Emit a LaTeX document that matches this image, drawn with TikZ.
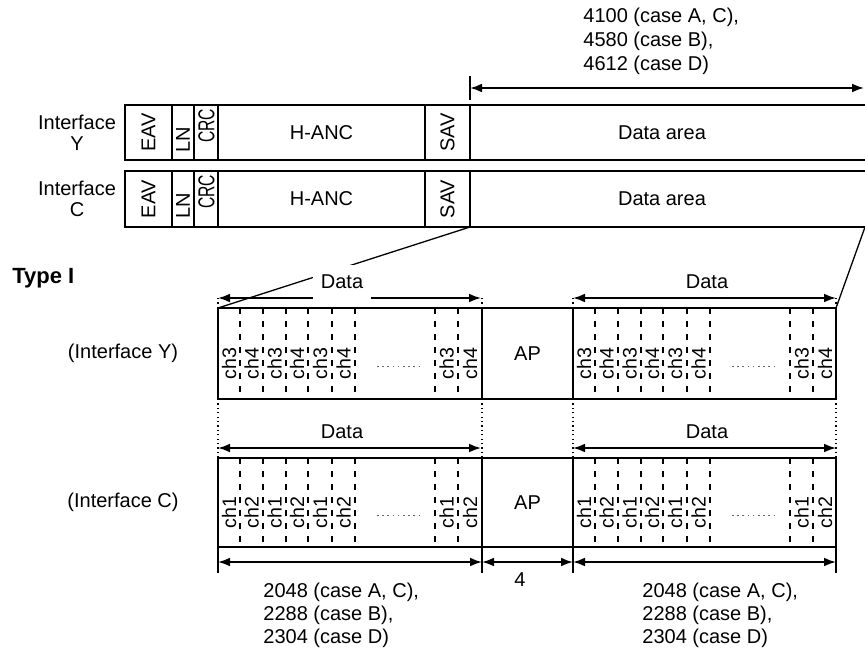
\documentclass[tikz,border=0pt]{standalone}
\usepackage{fontspec}
\setmainfont{Liberation Sans}
\usetikzlibrary{arrows.meta}
\begin{document}
\begin{tikzpicture}[x=0.5pt,y=-0.5pt,
  box/.style={line width=1.1pt},
  lbl/.style={font=\fontsize{10}{10.5}\selectfont, inner sep=0pt},
  rlbl/.style={lbl, rotate=90},
  chl/.style={font=\fontsize{9.8}{11}\selectfont, inner sep=0pt, rotate=90},
  chline/.style={line width=0.65pt, dash pattern=on 3pt off 3.5pt},
  dimarrow/.style={line width=0.85pt, {Latex[length=6pt,width=4.4pt]}-{Latex[length=6pt,width=4.4pt]}},
  ext/.style={line width=0.65pt},
  dotv/.style={line width=0.6pt, dash pattern=on 0.6pt off 1.6pt},
  ellip/.style={line width=0.7pt, dash pattern=on 0.8pt off 1.8pt, gray!80!black},
]
\useasboundingbox (0,0) rectangle (865,652);

% ---------- top rows ----------
\foreach \rw/\tp/\bt in {Y/105/160,C/171/227}{
  \draw[box] (865,\tp) -- (125,\tp) -- (125,\bt) -- (865,\bt);
  \foreach \x in {172,194,218,425,470} \draw[box] (\x,\tp) -- (\x,\bt);
  \node[lbl,align=center] (if\rw) at (77,{(\tp+\bt)/2}) {Interface\\\rw};
  \node[rlbl] (eav\rw) at (148.5,{(\tp+\bt)/2}) {EAV};
  \node[rlbl] (ln\rw) at (183,{\tp+35}) {LN};
  \node[rlbl, font=\fontsize{11.5}{12}\selectfont] (crc\rw) at (206.5,{\tp+21}) {\scalebox{0.68}[1]{CRC}};
  \node[lbl] (hanc\rw) at (321.5,{(\tp+\bt)/2}) {H-ANC};
  \node[rlbl] (sav\rw) at (447.5,{(\tp+\bt)/2}) {SAV};
  \node[lbl] (da\rw) at (662,{(\tp+\bt)/2}) {Data area};
}

% top dimension
\coordinate (tdL) at (470,88);
\coordinate (tdR) at (864,88);
\draw[ext] (470,76) -- (470,100);
\draw[dimarrow] (tdL) -- (tdR);
\node[lbl,anchor=west] (tt1) at (583,17) {4100 (case A, C),};
\node[lbl,anchor=west] (tt2) at (583,41) {4580 (case B),};
\node[lbl,anchor=west] (tt3) at (583,65) {4612 (case D)};

% Type I
\node[font=\fontsize{11}{13}\selectfont\bfseries, inner sep=0pt, anchor=west] (type) at (12,278) {Type I};
\node[lbl] (ifY2) at (123,353) {(Interface Y)};
\node[lbl] (ifC2) at (123,502) {(Interface C)};

% ---------- lower blocks ----------
\foreach \rw/\tp/\bt/\ca/\cb in {Y/308/399/3/4,C/458/547/1/2}{
  \draw[box] (218,\tp) rectangle (836,\bt);
  \draw[box] (482,\tp) -- (482,\bt) (573,\tp) -- (573,\bt);
  \node[lbl] (ap\rw) at (527.5,{(\tp+\bt)/2}) {AP};
  \foreach \xo/\sd in {218/L,573/R}{
    \foreach \dx in {22,45,68,90,114,137,217,240}
      \draw[chline] (\xo+\dx,\tp) -- (\xo+\dx,\bt);
    \foreach \dx [count=\i] in {11,56.5,102,228.5}
      \node[chl] (ch\rw\sd a\i) at (\xo+\dx,{(\tp+\bt)/2+10}) {ch\ca};
    \foreach \dx [count=\i] in {33.5,79,125.5,252}
      \node[chl] (ch\rw\sd b\i) at (\xo+\dx,{(\tp+\bt)/2+10}) {ch\cb};
    \draw[ellip] (\xo+159,{(\tp+\bt)/2+13}) -- (\xo+201,{(\tp+\bt)/2+13});
    \coordinate (ar\rw\sd1) at (\xo,\tp-10);
    \coordinate (ar\rw\sd2) at (\xo+263,\tp-10);
    \draw[dimarrow] (ar\rw\sd1) -- (ar\rw\sd2);
  }
}

% dotted extension lines
\foreach \x in {218,482,573,836}{
  \draw[dotv] (\x,399) -- (\x,458);
  \draw[dotv] (\x,298) -- (\x,308);
}

% slanted zoom lines
\coordinate (zA) at (470,227);
\coordinate (zB) at (218,308);
\coordinate (zC) at (865,227);
\coordinate (zD) at (836,308);
\draw[ext] (zA) -- (zB);
\draw[ext] (zC) -- (zD);

% Data labels
\node[lbl, fill=white, inner xsep=4pt, inner ysep=5pt] (dYL) at (342,282) {Data};
\node[lbl] (dYR) at (707,282) {Data};
\node[lbl] (dCL) at (342,432) {Data};
\node[lbl] (dCR) at (707,432) {Data};

% bottom dimensions
\foreach \x in {218,482,573,836} \draw[ext] (\x,547) -- (\x,573);
\coordinate (bd1) at (218,562);
\coordinate (bd2) at (482,562);
\coordinate (bd3) at (573,562);
\coordinate (bd4) at (836,562);
\draw[dimarrow] (bd1) -- (bd2);
\draw[dimarrow] (bd2) -- (bd3);
\draw[dimarrow] (bd3) -- (bd4);
\node[lbl] (four) at (520,580) {4};

\node[lbl,anchor=west] (bl1) at (263,592) {2048 (case A, C),};
\node[lbl,anchor=west] (bl2) at (263,615) {2288 (case B),};
\node[lbl,anchor=west] (bl3) at (263,638) {2304 (case D)};
\node[lbl,anchor=west] (br1) at (642,592) {2048 (case A, C),};
\node[lbl,anchor=west] (br2) at (642,615) {2288 (case B),};
\node[lbl,anchor=west] (br3) at (642,638) {2304 (case D)};
\end{tikzpicture}
\end{document}
